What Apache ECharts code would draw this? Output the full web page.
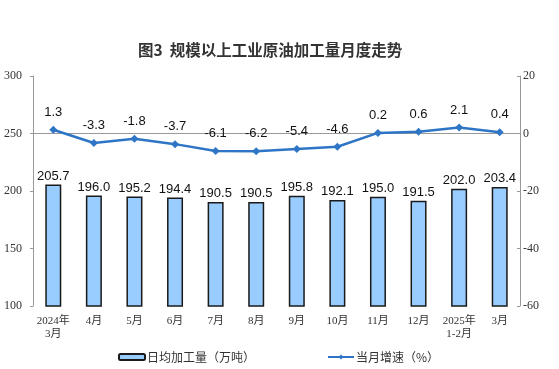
<!DOCTYPE html>
<html><head><meta charset="utf-8">
<script src="https://cdn.jsdelivr.net/npm/echarts@6/dist/echarts.min.js"></script>
<style>html,body{margin:0;padding:0;background:#fff}#c{width:559px;height:369px}</style>
</head><body><div id="c"></div>
<script>
var categories = ['2024年\n3月','4月','5月','6月','7月','8月','9月','10月','11月','12月','2025年\n1-2月','3月'];
var dailyOutput = [205.7,196.0,195.2,194.4,190.5,190.5,195.8,192.1,195.0,191.5,202.0,203.4];
var monthlyGrowth = [1.3,-3.3,-1.8,-3.7,-6.1,-6.2,-5.4,-4.6,0.2,0.6,2.1,0.4];
var leftTicks = {min:100,max:300,interval:50};
var rightTicks = {min:-60,max:20,interval:20};

var chart = echarts.init(document.getElementById('c'), null, {renderer:'canvas'});
var axisFont = {fontFamily:'Liberation Serif, Noto Sans CJK SC', fontSize:11, color:'#333'};
var yFont = {fontFamily:'Liberation Serif', fontSize:12, color:'#333'};
chart.setOption({
  animation:false,
  title:{text:'图3  规模以上工业原油加工量月度走势', left:133, top:37,
    textStyle:{fontSize:15.5, fontWeight:'bold', color:'#333', fontFamily:'Noto Sans CJK SC'}},
  legend:{left:113, top:346, itemGap:72, itemWidth:26, itemHeight:6,
    textStyle:{fontSize:12, color:'#333', fontFamily:'Noto Sans CJK SC', padding:[0,0,0,-3]},
    data:[{name:'日均加工量（万吨）'},{name:'当月增速（%）'}]},
  grid:{left:33, right:39, top:76, bottom:63},
  xAxis:{type:'category', data:categories,
    axisLine:{lineStyle:{color:'#999'}},
    axisTick:{inside:true, length:3, lineStyle:{color:'#999'}},
    axisLabel:Object.assign({margin:9, lineHeight:13, interval:0}, axisFont)},
  yAxis:[
    {type:'value', min:leftTicks.min, max:leftTicks.max, interval:leftTicks.interval,
      splitLine:{show:false}, axisLine:{show:true, lineStyle:{color:'#999'}},
      axisTick:{show:true, inside:false, length:3, lineStyle:{color:'#999'}},
      axisLabel:Object.assign({margin:11}, yFont)},
    {type:'value', min:rightTicks.min, max:rightTicks.max, interval:rightTicks.interval,
      splitLine:{show:false}, axisLine:{show:true, lineStyle:{color:'#999'}},
      axisTick:{show:true, inside:true, length:3, lineStyle:{color:'#999'}},
      axisLabel:Object.assign({margin:3}, yFont)}
  ],
  series:[
    {name:'日均加工量（万吨）', type:'bar', data:dailyOutput, barWidth:16, yAxisIndex:0,
      itemStyle:{color:'#99CCFF', borderColor:'#1a1a1a', borderWidth:1.5},
      label:{show:true, position:'top', distance:2, fontSize:13, color:'#111', fontFamily:'Liberation Sans, Arial',
        formatter:function(p){return p.value.toFixed(1);}}},
    {name:'当月增速（%）', type:'line', data:monthlyGrowth, yAxisIndex:1,
      symbol:'diamond', symbolSize:8,
      lineStyle:{color:'#2E75C6', width:2.5}, itemStyle:{color:'#2E75C6'},
      label:{show:true, position:'top', distance:7, fontSize:13, color:'#111', fontFamily:'Liberation Sans, Arial',
        formatter:function(p){return p.value.toFixed(1);}}}
  ]
});
</script></body></html>
